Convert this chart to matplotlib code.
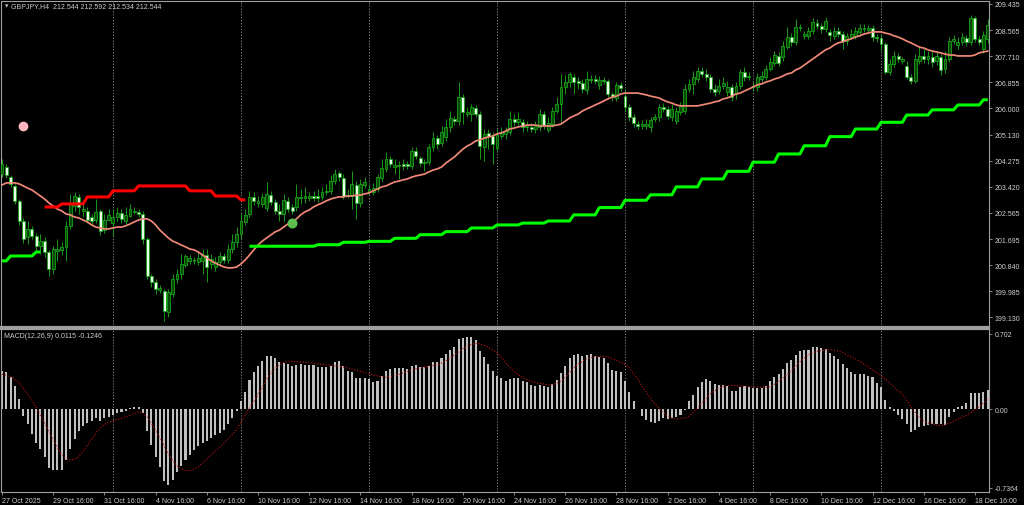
import numpy as np
import matplotlib
matplotlib.use("Agg")
import matplotlib.pyplot as plt

nan = np.nan

# GBPJPY H4 candles, bar 0 = 27 Oct 2025 16:00
opens = [
    203.84, 204.07, 203.74, 203.45, 202.96, 202.30, 201.77, 202.04, 201.81, 201.48,
    201.64, 201.28, 200.72, 201.31, 201.35, 201.45, 202.14, 202.79, 203.09, 202.63,
    202.63, 202.43, 202.33, 202.63, 202.00, 202.33, 202.23, 202.43, 202.56, 202.30,
    202.46, 202.60, 202.60, 202.53, 201.71, 200.49, 200.30, 200.03, 200.00, 199.31,
    199.90, 200.39, 200.56, 200.85, 200.99, 200.99, 200.95, 200.99, 201.18, 200.89,
    200.79, 200.95, 201.15, 201.02, 201.38, 201.61, 201.87, 202.27, 202.53, 203.09,
    202.89, 202.86, 202.73, 203.15, 202.92, 202.63, 202.53, 202.96, 202.76, 202.76,
    203.06, 203.06, 203.06, 203.12, 203.12, 203.09, 203.25, 203.29, 203.61, 203.88,
    203.71, 203.12, 203.12, 203.48, 202.89, 203.48, 203.25, 203.25, 203.35, 203.71,
    204.01, 204.34, 204.07, 204.11, 204.17, 204.17, 204.11, 204.60, 204.37, 204.20,
    204.24, 204.73, 205.02, 204.86, 205.06, 205.39, 205.65, 205.58, 206.37, 205.81,
    205.81, 206.01, 205.81, 204.73, 205.19, 205.09, 204.70, 205.09, 205.16, 205.22,
    205.65, 205.55, 205.55, 205.39, 205.39, 205.32, 205.39, 205.81, 205.29, 205.48,
    205.91, 206.14, 206.70, 206.86, 207.03, 206.90, 206.83, 206.60, 206.93, 206.96,
    206.77, 206.93, 206.90, 206.47, 206.34, 206.77, 206.40, 206.04, 205.71, 205.48,
    205.42, 205.42, 205.39, 205.65, 205.71, 206.04, 205.98, 205.71, 205.58, 205.88,
    205.91, 206.63, 206.80, 206.96, 207.23, 207.13, 207.03, 206.63, 206.57, 206.73,
    206.54, 206.70, 206.47, 206.73, 207.19, 207.03, 206.70, 206.70, 206.96, 207.03,
    207.29, 207.49, 207.72, 207.69, 208.01, 208.34, 208.18, 208.64, 208.38, 208.38,
    208.54, 208.80, 208.70, 208.61, 208.51, 208.38, 208.54, 208.44, 208.21, 208.34,
    208.38, 208.51, 208.61, 208.57, 208.64, 208.34, 208.31, 208.11, 207.19, 207.46,
    207.72, 207.55, 207.39, 207.03, 206.90, 207.55, 207.72, 207.62, 207.69, 207.55,
    207.69, 207.29, 207.62, 208.21, 208.08, 208.18, 208.31, 208.18, 208.97, 208.28,
    207.95, 208.28,
]
highs = [
    204.34, 204.17, 203.81, 203.52, 203.02, 202.40, 202.30, 202.14, 201.91, 201.87,
    201.77, 201.35, 201.48, 201.71, 201.61, 202.30, 203.19, 203.25, 203.19, 202.92,
    202.76, 202.53, 203.02, 202.69, 202.53, 202.69, 202.69, 202.76, 202.69, 202.76,
    202.86, 202.76, 202.69, 202.63, 201.77, 200.56, 200.39, 200.20, 200.07, 200.07,
    200.56, 200.72, 201.22, 201.22, 201.18, 201.12, 201.31, 201.38, 201.38, 201.22,
    201.12, 201.28, 201.25, 201.54, 201.87, 202.10, 202.56, 202.69, 203.29, 203.25,
    203.12, 203.22, 203.58, 203.29, 203.02, 202.86, 203.19, 203.09, 202.86, 203.52,
    203.35, 203.42, 203.25, 203.29, 203.35, 203.42, 203.52, 203.81, 204.01, 203.94,
    203.84, 203.35, 203.94, 203.61, 203.68, 203.74, 203.48, 203.55, 203.84, 204.34,
    204.56, 204.43, 204.34, 204.27, 204.34, 204.27, 204.73, 204.73, 204.43, 204.34,
    204.83, 205.22, 205.12, 205.42, 205.65, 205.91, 205.75, 206.86, 206.47, 206.04,
    206.14, 206.11, 205.91, 205.32, 205.32, 205.22, 205.32, 205.39, 205.39, 205.91,
    205.81, 205.88, 205.65, 205.58, 205.52, 205.58, 205.98, 205.91, 205.71, 206.04,
    206.37, 207.13, 207.09, 207.19, 207.13, 207.03, 206.96, 207.23, 207.09, 207.09,
    207.06, 207.03, 206.96, 206.54, 206.86, 206.86, 206.63, 206.14, 205.81, 205.58,
    205.62, 205.65, 205.71, 205.81, 206.14, 206.17, 206.08, 206.14, 206.04, 206.21,
    206.80, 206.96, 207.23, 207.36, 207.36, 207.29, 207.13, 206.80, 206.96, 207.03,
    206.90, 206.80, 206.86, 207.29, 207.36, 207.19, 206.86, 207.16, 207.23, 207.42,
    207.69, 207.88, 207.85, 208.21, 208.67, 208.47, 208.93, 208.77, 208.54, 208.67,
    208.97, 208.93, 208.80, 209.00, 208.61, 208.67, 208.67, 208.54, 208.47, 208.61,
    208.67, 208.77, 208.77, 208.74, 208.74, 208.44, 208.44, 208.18, 207.62, 207.88,
    207.82, 207.69, 207.55, 207.13, 207.78, 208.01, 207.95, 207.88, 207.88, 207.88,
    207.78, 207.88, 208.34, 208.41, 208.34, 208.47, 208.41, 209.06, 209.03, 208.38,
    208.54, 208.93,
]
lows = [
    203.74, 203.71, 203.42, 202.86, 202.17, 201.58, 201.54, 201.71, 201.31, 201.22,
    201.12, 200.49, 200.56, 200.99, 201.18, 200.99, 202.04, 202.63, 202.53, 202.43,
    202.23, 202.17, 202.23, 201.84, 201.91, 202.30, 201.81, 202.30, 202.23, 202.20,
    202.43, 202.53, 202.43, 201.54, 200.39, 200.13, 199.90, 199.94, 199.02, 199.15,
    199.80, 200.26, 200.39, 200.79, 200.89, 200.89, 200.85, 200.56, 200.30, 200.72,
    200.66, 200.85, 200.92, 200.92, 201.25, 201.45, 201.71, 202.17, 202.43, 202.83,
    202.76, 202.76, 202.63, 202.83, 202.53, 202.30, 202.30, 202.60, 202.53, 202.63,
    202.86, 202.89, 202.96, 202.96, 202.92, 202.99, 203.15, 203.19, 203.52, 203.61,
    203.02, 203.06, 202.69, 202.37, 202.76, 203.38, 203.15, 203.15, 203.25, 203.61,
    203.91, 204.07, 203.84, 203.68, 203.97, 204.01, 204.01, 204.34, 204.11, 203.94,
    204.14, 204.60, 204.66, 204.76, 204.93, 205.22, 205.45, 205.45, 205.48, 205.71,
    205.58, 205.71, 204.34, 204.27, 204.66, 204.17, 204.60, 204.99, 204.99, 205.12,
    205.42, 205.45, 205.22, 205.25, 205.22, 205.19, 205.25, 205.32, 205.22, 205.39,
    205.85, 205.52, 206.47, 206.70, 206.47, 206.63, 206.50, 206.47, 206.83, 206.80,
    206.63, 206.80, 206.37, 206.24, 206.24, 206.57, 205.91, 205.58, 205.39, 205.32,
    205.32, 205.32, 205.22, 205.55, 205.58, 205.88, 205.65, 205.58, 205.48, 205.78,
    205.81, 206.54, 206.47, 206.86, 207.03, 206.90, 206.54, 206.40, 206.47, 206.63,
    206.40, 206.24, 206.31, 206.63, 206.90, 206.93, 206.57, 206.57, 206.86, 206.93,
    207.23, 207.39, 207.39, 207.55, 207.95, 208.05, 208.08, 208.54, 208.28, 208.28,
    208.44, 208.61, 208.47, 208.51, 208.21, 208.28, 208.34, 207.95, 208.08, 208.28,
    208.28, 208.41, 208.51, 208.47, 208.21, 208.18, 207.88, 207.13, 207.09, 207.36,
    207.52, 207.46, 206.96, 206.80, 206.83, 207.46, 207.49, 207.46, 207.36, 207.42,
    207.09, 207.16, 207.52, 208.11, 207.95, 208.08, 208.05, 208.08, 208.18, 208.08,
    207.82, 208.15,
]
closes = [
    204.17, 203.81, 203.52, 202.96, 202.30, 201.71, 202.04, 201.81, 201.48, 201.64,
    201.28, 200.72, 201.38, 201.38, 201.45, 202.14, 202.86, 203.12, 202.76, 202.69,
    202.33, 202.30, 202.60, 201.97, 202.33, 202.50, 202.43, 202.56, 202.37, 202.50,
    202.69, 202.63, 202.53, 201.71, 200.49, 200.30, 200.07, 200.10, 199.34, 199.97,
    200.39, 200.56, 200.89, 201.15, 201.08, 201.02, 201.08, 201.18, 200.79, 201.05,
    200.95, 201.15, 201.02, 201.38, 201.61, 201.87, 202.30, 202.50, 203.09, 202.96,
    202.96, 203.09, 203.19, 202.92, 202.63, 202.53, 202.99, 202.69, 202.63, 203.09,
    203.09, 203.12, 203.12, 203.06, 203.06, 203.25, 203.29, 203.61, 203.84, 203.74,
    203.12, 203.15, 203.52, 202.89, 203.52, 203.58, 203.35, 203.38, 203.74, 204.04,
    204.34, 204.17, 204.14, 204.14, 204.11, 204.11, 204.60, 204.43, 204.20, 204.24,
    204.73, 205.02, 204.83, 205.22, 205.39, 205.68, 205.58, 206.37, 205.88, 205.88,
    206.04, 205.81, 204.76, 205.16, 205.09, 204.83, 205.12, 205.19, 205.25, 205.65,
    205.55, 205.65, 205.39, 205.42, 205.32, 205.42, 205.81, 205.45, 205.52, 205.91,
    206.14, 206.70, 206.86, 207.13, 206.86, 206.83, 206.63, 206.96, 206.96, 206.90,
    206.93, 206.90, 206.47, 206.37, 206.77, 206.67, 206.04, 205.71, 205.52, 205.42,
    205.48, 205.48, 205.62, 205.71, 206.04, 205.98, 205.75, 205.98, 205.91, 206.08,
    206.63, 206.80, 207.03, 207.23, 207.13, 207.03, 206.63, 206.54, 206.73, 206.83,
    206.70, 206.37, 206.73, 207.19, 207.03, 207.06, 206.73, 207.03, 207.06, 207.29,
    207.52, 207.75, 207.49, 208.05, 208.34, 208.18, 208.67, 208.67, 208.44, 208.54,
    208.83, 208.70, 208.61, 208.87, 208.41, 208.54, 208.44, 208.21, 208.38, 208.44,
    208.54, 208.64, 208.64, 208.64, 208.34, 208.31, 208.11, 207.19, 207.46, 207.72,
    207.62, 207.62, 207.03, 206.90, 207.62, 207.72, 207.62, 207.72, 207.52, 207.72,
    207.26, 207.62, 208.21, 208.28, 208.18, 208.34, 208.18, 208.97, 208.28, 208.18,
    208.41, 208.74,
]

# moving average (salmon line)
ma = [
    203.48, 203.55, 203.55, 203.55, 203.52, 203.45, 203.38, 203.32, 203.22, 203.12,
    203.02, 202.89, 202.79, 202.69, 202.63, 202.53, 202.50, 202.43, 202.40, 202.33,
    202.27, 202.17, 202.10, 202.07, 202.04, 202.04, 202.07, 202.10, 202.10, 202.14,
    202.20, 202.27, 202.33, 202.37, 202.37, 202.30, 202.17, 202.00, 201.87, 201.74,
    201.64, 201.58, 201.51, 201.45, 201.38, 201.35, 201.28, 201.18, 201.08, 200.99,
    200.92, 200.85, 200.79, 200.76, 200.76, 200.79, 200.89, 201.02, 201.18, 201.35,
    201.51, 201.64, 201.74, 201.84, 201.94, 202.00, 202.10, 202.20, 202.27, 202.37,
    202.50, 202.60, 202.66, 202.76, 202.83, 202.89, 202.96, 203.02, 203.06, 203.09,
    203.09, 203.12, 203.12, 203.15, 203.15, 203.19, 203.22, 203.29, 203.35, 203.42,
    203.45, 203.52, 203.58, 203.61, 203.65, 203.68, 203.74, 203.78, 203.81, 203.84,
    203.91, 203.97, 204.01, 204.07, 204.20, 204.30, 204.40, 204.53, 204.66, 204.76,
    204.83, 204.93, 204.96, 205.02, 205.06, 205.09, 205.16, 205.19, 205.25, 205.32,
    205.35, 205.39, 205.42, 205.45, 205.45, 205.45, 205.42, 205.42, 205.42, 205.42,
    205.45, 205.48, 205.58, 205.68, 205.75, 205.81, 205.91, 205.98, 206.04, 206.11,
    206.17, 206.24, 206.31, 206.37, 206.40, 206.47, 206.50, 206.50, 206.50, 206.50,
    206.47, 206.44, 206.40, 206.37, 206.34, 206.27, 206.21, 206.17, 206.11, 206.08,
    206.08, 206.08, 206.08, 206.08, 206.11, 206.14, 206.17, 206.21, 206.24, 206.31,
    206.34, 206.40, 206.47, 206.50, 206.57, 206.63, 206.70, 206.77, 206.80, 206.86,
    206.90, 206.96, 207.00, 207.06, 207.13, 207.16, 207.26, 207.32, 207.42, 207.52,
    207.62, 207.72, 207.82, 207.92, 207.98, 208.08, 208.15, 208.18, 208.24, 208.28,
    208.34, 208.38, 208.44, 208.47, 208.51, 208.51, 208.51, 208.47, 208.44, 208.38,
    208.34, 208.28, 208.21, 208.15, 208.08, 208.01, 207.98, 207.92, 207.88, 207.85,
    207.82, 207.78, 207.75, 207.75, 207.72, 207.72, 207.72, 207.72, 207.75, 207.82,
    207.85, 207.88,
]

# trailing stop, one level per trading day (day 0 = 27 Oct)
stop_green_day = [
    200.99, 201.15, 201.28, nan, nan, nan, nan, nan, nan, nan,
    201.47, 201.47, 201.47, 201.52, 201.60, 201.63, 201.73, 201.85, 201.95, 202.07,
    202.17, 202.23, 202.30, 202.50, 202.74, 202.98, 203.16, 203.42, 203.68, 203.93,
    204.23, 204.50, 204.77, 205.07, 205.32, 205.54, 205.78, 205.95, 206.11, 206.28,
]
stop_red_day = [
    nan, nan, 202.76, 202.86, 203.09, 203.29, 203.45, 203.45, 203.29, 203.12,
    202.99, nan, nan, nan, nan, nan, nan, nan, nan, nan,
    nan, nan, nan, nan, nan, nan, nan, nan, nan, nan,
    nan, nan, nan, nan, nan, nan, nan, nan, nan, nan,
]
red_first_bar, red_last_bar = 10, 57

pink_dot = (5, 205.42)
green_dot = (68, 202.23)

macd_hist = [
    0.358, 0.343, 0.296, 0.218, 0.093, -0.062, -0.140, -0.234, -0.321, -0.374,
    -0.452, -0.551, -0.567, -0.567, -0.567, -0.477, -0.374, -0.280, -0.202, -0.156,
    -0.131, -0.109, -0.084, -0.109, -0.087, -0.078, -0.053, -0.040, -0.031, -0.022,
    0.009, 0.016, 0.022, -0.040, -0.202, -0.333, -0.445, -0.545, -0.670, -0.707,
    -0.660, -0.592, -0.530, -0.477, -0.430, -0.383, -0.349, -0.318, -0.302, -0.271,
    -0.243, -0.224, -0.193, -0.140, -0.087, -0.022, 0.072, 0.156, 0.271, 0.349,
    0.399, 0.452, 0.492, 0.498, 0.474, 0.436, 0.427, 0.421, 0.405, 0.414,
    0.421, 0.414, 0.411, 0.414, 0.396, 0.396, 0.396, 0.405, 0.436, 0.452,
    0.405, 0.358, 0.343, 0.290, 0.290, 0.290, 0.280, 0.249, 0.265, 0.312,
    0.352, 0.374, 0.380, 0.380, 0.383, 0.374, 0.405, 0.411, 0.389, 0.396,
    0.405, 0.436, 0.442, 0.474, 0.514, 0.555, 0.583, 0.654, 0.664, 0.670,
    0.670, 0.648, 0.539, 0.483, 0.421, 0.352, 0.312, 0.290, 0.265, 0.280,
    0.287, 0.287, 0.265, 0.249, 0.227, 0.212, 0.227, 0.218, 0.209, 0.234,
    0.271, 0.333, 0.405, 0.477, 0.505, 0.514, 0.498, 0.508, 0.514, 0.498,
    0.489, 0.477, 0.427, 0.364, 0.358, 0.343, 0.259, 0.162, 0.078, 0.003,
    -0.062, -0.103, -0.125, -0.131, -0.109, -0.087, -0.093, -0.084, -0.078, -0.056,
    -0.009, 0.072, 0.134, 0.209, 0.249, 0.280, 0.259, 0.234, 0.227, 0.227,
    0.212, 0.165, 0.165, 0.209, 0.218, 0.209, 0.196, 0.196, 0.196, 0.218,
    0.259, 0.296, 0.327, 0.374, 0.427, 0.458, 0.505, 0.545, 0.555, 0.555,
    0.576, 0.576, 0.567, 0.561, 0.520, 0.498, 0.467, 0.421, 0.383, 0.343,
    0.327, 0.327, 0.327, 0.312, 0.296, 0.240, 0.202, 0.084, 0.016, -0.022,
    -0.053, -0.093, -0.140, -0.218, -0.196, -0.171, -0.156, -0.146, -0.140, -0.140,
    -0.140, -0.146, -0.078, -0.025, 0.016, 0.031, 0.053, 0.146, 0.150, 0.146,
    0.156, 0.181,
]
macd_signal = [
    0.325, 0.315, 0.300, 0.280, 0.245, 0.195, 0.140, 0.085, 0.015, -0.060,
    -0.135, -0.210, -0.280, -0.360, -0.430, -0.465, -0.477, -0.470, -0.445, -0.395,
    -0.340, -0.285, -0.225, -0.175, -0.145, -0.125, -0.110, -0.098, -0.087, -0.072,
    -0.058, -0.040, -0.025, -0.035, -0.075, -0.135, -0.200, -0.270, -0.345, -0.420,
    -0.480, -0.530, -0.560, -0.576, -0.575, -0.565, -0.540, -0.505, -0.467, -0.430,
    -0.395, -0.358, -0.318, -0.278, -0.238, -0.190, -0.125, -0.060, 0.010, 0.070,
    0.135, 0.205, 0.275, 0.340, 0.380, 0.415, 0.436, 0.442, 0.445, 0.443,
    0.440, 0.437, 0.433, 0.428, 0.422, 0.418, 0.412, 0.407, 0.402, 0.397,
    0.392, 0.385, 0.375, 0.365, 0.352, 0.340, 0.330, 0.321, 0.310, 0.300,
    0.296, 0.300, 0.310, 0.321, 0.335, 0.350, 0.366, 0.376, 0.383, 0.389,
    0.397, 0.405, 0.416, 0.430, 0.450, 0.475, 0.505, 0.535, 0.565, 0.585,
    0.603, 0.614, 0.610, 0.595, 0.575, 0.553, 0.528, 0.485, 0.435, 0.389,
    0.350, 0.320, 0.296, 0.275, 0.258, 0.249, 0.240, 0.233, 0.228, 0.230,
    0.240, 0.262, 0.300, 0.340, 0.380, 0.420, 0.445, 0.470, 0.482, 0.490,
    0.492, 0.492, 0.488, 0.470, 0.455, 0.435, 0.420, 0.385, 0.330, 0.280,
    0.215, 0.155, 0.100, 0.047, 0.005, -0.035, -0.065, -0.085, -0.093, -0.090,
    -0.084, -0.065, -0.030, 0.010, 0.055, 0.095, 0.140, 0.171, 0.195, 0.212,
    0.218, 0.220, 0.218, 0.216, 0.213, 0.210, 0.208, 0.205, 0.203, 0.202,
    0.210, 0.232, 0.255, 0.285, 0.320, 0.360, 0.396, 0.440, 0.475, 0.505,
    0.528, 0.540, 0.548, 0.551, 0.553, 0.551, 0.543, 0.527, 0.507, 0.485,
    0.467, 0.446, 0.420, 0.395, 0.365, 0.340, 0.312, 0.280, 0.245, 0.205,
    0.170, 0.140, 0.090, 0.020, -0.030, -0.085, -0.110, -0.130, -0.140, -0.150,
    -0.156, -0.150, -0.130, -0.115, -0.095, -0.078, -0.060, -0.035, -0.010, 0.025,
    0.055, 0.093,
]

price_ticks = [209.435, 208.565, 207.710, 206.855, 206.000, 205.130, 204.275,
               203.420, 202.565, 201.695, 200.840, 199.985, 199.130]
macd_ticks = [0.702, 0.0, -0.7364]
macd_tick_labels = ["0.702", "0.00", "-0.7364"]
date_labels = ["27 Oct 2025", "29 Oct 16:00", "31 Oct 16:00", "4 Nov 16:00",
               "6 Nov 16:00", "10 Nov 16:00", "12 Nov 16:00", "14 Nov 16:00",
               "18 Nov 16:00", "20 Nov 16:00", "24 Nov 16:00", "26 Nov 16:00",
               "28 Nov 16:00", "2 Dec 16:00", "4 Dec 16:00", "8 Dec 16:00",
               "10 Dec 16:00", "12 Dec 16:00", "16 Dec 16:00", "18 Dec 16:00"]
date_bars = list(range(0, 229, 12))
week_start_bars = [26, 56, 86, 116, 146, 176, 206]

title = "GBPJPY,H4  212.544 212.592 212.534 212.544"
macd_title = "MACD(12,26,9) 0.0115 -0.1246"

# ---- styling
TXT = "#cfcfcf"
FRAME = "#a0a0a0"
WICK = "#18a418"
FONT = ["Liberation Sans", "DejaVu Sans"]
FS = 5.0
plt.rcParams["font.family"] = FONT

W, H = 1024, 506
fig = plt.figure(figsize=(W / 100, H / 100), dpi=100, facecolor="black")

def px_axes(x0, y0, x1, y1):
    return fig.add_axes([x0 / W, 1 - y1 / H, (x1 - x0) / W, (y1 - y0) / H])

ax = px_axes(1, 2, 989, 328)
ax2 = px_axes(1, 330, 989, 493)

bars = np.arange(len(closes))
o = np.array(opens)
c = np.array(closes)
up = c >= o
xlim = (-0.234, 231.3)

for a in (ax, ax2):
    a.set_facecolor("black")
    a.set_xlim(*xlim)
    for s in a.spines.values():
        s.set_color(FRAME)
        s.set_linewidth(0.8)
    for b in week_start_bars:
        a.axvline(b, color="#8a8a8a", lw=0.7, ls=(0, (1.2, 1.8)), zorder=0)

ax.spines["bottom"].set_linewidth(1.6)
ax2.spines["top"].set_linewidth(1.6)

# ---- main pane
ax.set_ylim(198.818, 209.524)
ax.vlines(bars, lows, highs, color=WICK, lw=0.65, zorder=2)
ax.bar(bars[up], (c - o)[up], bottom=o[up], width=0.68, color="#0a480a",
       edgecolor=WICK, linewidth=0.6, zorder=3)
ax.bar(bars[~up], (c - o)[~up], bottom=o[~up], width=0.68, color="#eaffea",
       edgecolor=WICK, linewidth=0.6, zorder=3)

ax.plot(bars, ma, color="#f08878", lw=1.25, zorder=4)

day_of_bar = (bars + 4) // 6
green_line = np.array(stop_green_day)[day_of_bar]
red_line = np.array(stop_red_day)[day_of_bar]
is_red = (bars >= red_first_bar) & (bars <= red_last_bar)
green_line[is_red] = nan
red_line[~is_red] = nan
ax.plot(bars, green_line, color="#00ff00", lw=2.2, zorder=5, solid_capstyle="butt")
ax.plot(bars, red_line, color="#ff0000", lw=2.2, zorder=5, solid_capstyle="butt")

ax.plot(*pink_dot, "o", ms=6, color="#ffb6c1", mec="#ffb6c1", zorder=6)
ax.plot(*green_dot, "o", ms=6.2, color="#5cbf4c", mec="#5cbf4c", zorder=6)

ax.yaxis.tick_right()
ax.set_yticks(price_ticks)
ax.set_yticklabels([f"{t:.3f}" for t in price_ticks])
ax.set_xticks([])
ax.tick_params(axis="y", colors=FRAME, labelcolor=TXT, labelsize=FS,
               length=2.5, width=0.6, pad=1.5)

# ---- MACD pane
ax2.set_ylim(-0.776, 0.748)
ax2.bar(bars, macd_hist, width=0.48, color="#c0c0c0", zorder=2)
ax2.plot(bars, macd_signal, color="#c41414", lw=0.8, ls=(0, (1, 1.6)), zorder=3)
ax2.yaxis.tick_right()
ax2.set_yticks(macd_ticks)
ax2.set_yticklabels(macd_tick_labels)
ax2.tick_params(axis="y", colors=FRAME, labelcolor=TXT, labelsize=FS,
                length=2.5, width=0.6, pad=1.5)
ax2.set_xticks(date_bars)
ax2.set_xticklabels(date_labels, ha="left")
ax2.tick_params(axis="x", colors=FRAME, labelcolor=TXT, labelsize=FS,
                length=2.5, width=0.6, pad=1.2)

fig.text(5 / W, 1 - 7 / H, "\u25bc", color=TXT, fontsize=3.2, va="center",
         family=["DejaVu Sans"])
fig.text(11 / W, 1 - 7 / H, title, color=TXT, fontsize=FS, va="center")
fig.text(4 / W, 1 - 337 / H, macd_title, color=TXT, fontsize=FS, va="center")

fig.savefig("out.png", dpi=100, facecolor="black")
